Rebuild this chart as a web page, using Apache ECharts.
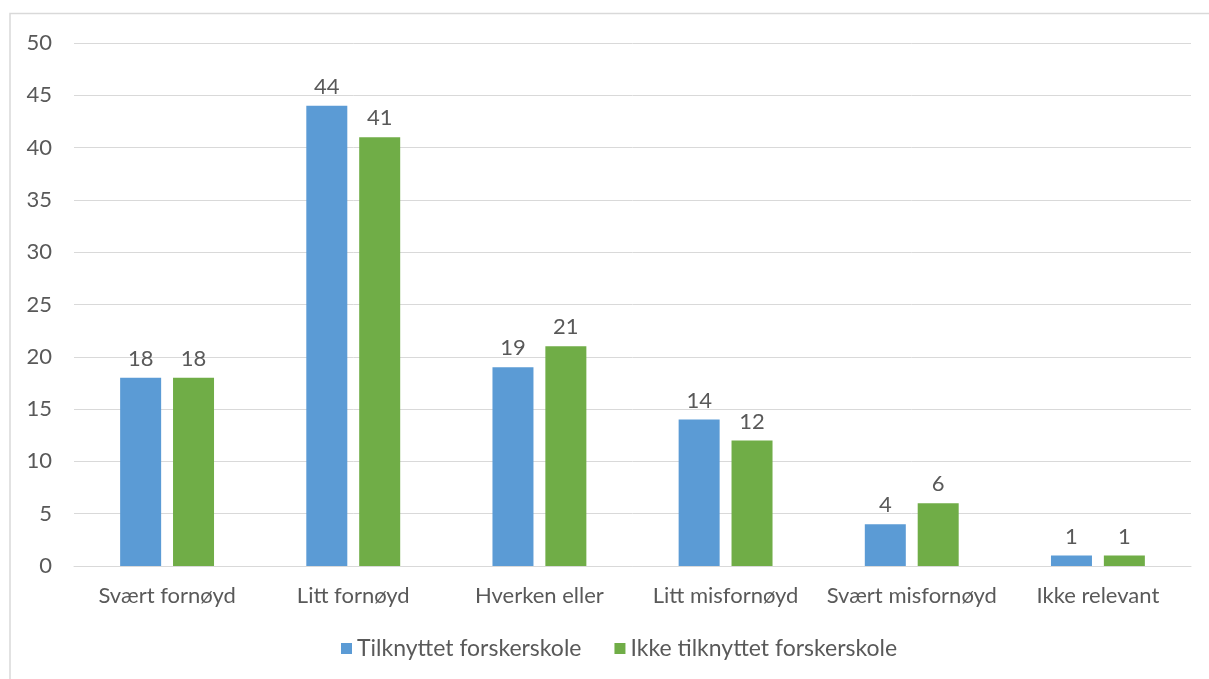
<!DOCTYPE html>
<html>
<head>
<meta charset="utf-8">
<script src="https://cdn.jsdelivr.net/npm/echarts@6/dist/echarts.min.js"></script>
<style>html,body{margin:0;padding:0;background:#fff;}#c{width:1209px;height:679px;}</style>
</head>
<body>
<div id="c"></div>
<script>
const categories = ["Svært fornøyd", "Litt fornøyd", "Hverken eller", "Litt misfornøyd", "Svært misfornøyd", "Ikke relevant"];
const seriesNames = ["Tilknyttet forskerskole", "Ikke tilknyttet forskerskole"];
const tilknyttet = [18, 44, 19, 14, 4, 1];
const ikkeTilknyttet = [18, 41, 21, 12, 6, 1];
const yTicks = { min: 0, max: 50, interval: 5 };

const font = "Lato, 'Open Sans', sans-serif";
const txt = '#595959';
const fs = 22;
const chart = echarts.init(document.getElementById('c'));
chart.setOption({
  animation: false,
  textStyle: { fontFamily: font },
  graphic: [{
    type: 'polyline',
    shape: { points: [[10, 679], [10, 13.5], [1209, 13.5]] },
    style: { stroke: '#d9d9d9', lineWidth: 1.5, fill: null },
    silent: true
  }],
  grid: { left: 74, right: 18, top: 43, bottom: 113, containLabel: false },
  legend: {
    bottom: 14,
    left: 336,
    itemWidth: 11, itemHeight: 11, itemGap: 33,
    icon: 'rect',
    textStyle: { color: txt, fontSize: 23, fontFamily: font },
    data: seriesNames
  },
  xAxis: {
    type: 'category',
    data: categories,
    axisLine: { lineStyle: { color: '#d9d9d9', width: 1 } },
    axisTick: { show: false },
    axisLabel: { color: txt, fontSize: fs, margin: 19, interval: 0, fontFamily: font }
  },
  yAxis: {
    type: 'value',
    min: yTicks.min, max: yTicks.max, interval: yTicks.interval,
    axisLine: { show: false },
    axisTick: { show: false },
    splitLine: { lineStyle: { color: '#d9d9d9', width: 1 } },
    axisLabel: { color: txt, fontSize: fs, margin: 22, fontFamily: font }
  },
  series: [
    {
      name: seriesNames[0], type: 'bar', data: tilknyttet,
      itemStyle: { color: '#5b9bd5' },
      barWidth: 41, barGap: '29%',
      label: { show: true, position: 'top', color: txt, fontSize: fs, distance: 8, fontFamily: font }
    },
    {
      name: seriesNames[1], type: 'bar', data: ikkeTilknyttet,
      itemStyle: { color: '#70ad47' },
      barWidth: 41, barGap: '29%',
      label: { show: true, position: 'top', color: txt, fontSize: fs, distance: 8, fontFamily: font }
    }
  ]
});
</script>
</body>
</html>
